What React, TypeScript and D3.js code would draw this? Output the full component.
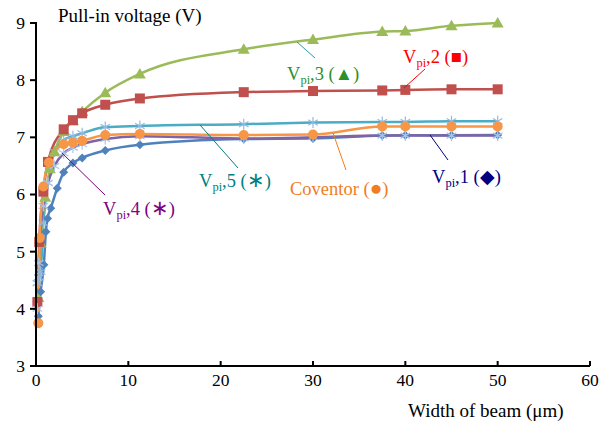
import * as d3 from 'd3';

const W = 607;
const H = 424;
const margin = { top: 23, right: 17, bottom: 58, left: 36 };

// x tick values and y tick values
const xTicks = [0, 10, 20, 30, 40, 50, 60];
const yTicks = [3, 4, 5, 6, 7, 8, 9];

// width of beam (um) and pull-in voltage (V)
const vpi1X = [0.25, 0.5, 0.85, 1.07, 1.25, 1.6, 2.3, 3, 4, 5, 7.5, 11.25, 22.5, 30, 37.5, 40, 45, 50];
const vpi1Y = [3.87, 4.3, 4.77, 5.35, 5.58, 5.76, 6.11, 6.39, 6.55, 6.64, 6.77, 6.87, 6.97, 6.98, 7.03, 7.035, 7.035, 7.04];

const vpi2X = [0.15, 0.35, 0.8, 1.3, 3, 4, 5, 7.5, 11.25, 22.5, 30, 37.5, 40, 45, 50];
const vpi2Y = [4.12, 5.17, 6.05, 6.57, 7.14, 7.3, 7.42, 7.57, 7.68, 7.79, 7.81, 7.82, 7.83, 7.84, 7.84];

const vpi3X = [0.25, 0.5, 1, 1.5, 2, 3, 4, 5, 7.5, 11.25, 22.5, 30, 37.5, 40, 45, 50];
const vpi3Y = [4.2, 5.15, 5.95, 6.45, 6.75, 7.1, 7.29, 7.45, 7.78, 8.11, 8.54, 8.71, 8.85, 8.86, 8.95, 9.0];

const vpi4X = [0.15, 0.3, 0.8, 1.3, 2, 3, 4, 5, 7.5, 11.25, 22.5, 30, 37.5, 40, 45, 50];
const vpi4Y = [4.0, 4.8, 5.8, 6.2, 6.5, 6.72, 6.82, 6.88, 6.97, 7.02, 6.98, 7.0, 7.03, 7.03, 7.03, 7.03];

const vpi5X = [0.15, 0.3, 0.5, 0.8, 1.3, 2, 3, 4, 5, 7.5, 11.25, 22.5, 30, 37.5, 40, 45, 50];
const vpi5Y = [4.45, 4.55, 4.65, 5.5, 6.2, 6.75, 6.95, 7.02, 7.07, 7.18, 7.2, 7.23, 7.26, 7.27, 7.27, 7.28, 7.28];

const coventorX = [0.25, 0.4, 0.8, 1.4, 3, 4, 5, 7.5, 11.25, 22.5, 30, 37.5, 40, 45, 50];
const coventorY = [3.75, 5.24, 6.14, 6.56, 6.88, 6.91, 6.94, 7.04, 7.06, 7.04, 7.05, 7.19, 7.19, 7.19, 7.19];

const x = d3.scaleLinear().domain([0, 60]).range([margin.left, W - margin.right]);
const y = d3.scaleLinear().domain([3, 9]).range([H - margin.bottom, margin.top]);

const zip = (xs: number[], ys: number[]) => xs.map((v, i) => [v, ys[i]] as [number, number]);

const line = d3.line<[number, number]>()
  .x(d => x(d[0]))
  .y(d => y(d[1]))
  .curve(d3.curveMonotoneX);

const serif = "'Liberation Serif', 'Times New Roman', Times, serif";

const Star = ({ cx, cy, color }: { cx: number; cy: number; color: string }) => {
  const r = 5.5;
  const a = r * Math.cos(Math.PI / 6);
  const b = r * Math.sin(Math.PI / 6);
  return (
    <g stroke={color} strokeWidth={1.2}>
      <line x1={cx} y1={cy - r} x2={cx} y2={cy + r} />
      <line x1={cx - a} y1={cy - b} x2={cx + a} y2={cy + b} />
      <line x1={cx - a} y1={cy + b} x2={cx + a} y2={cy - b} />
    </g>
  );
};

const Label = ({ tx, ty, color, name, rest, sym, symSize }: { tx: number; ty: number; color: string; name: string; rest: string; sym: string; symSize: number }) => (
  <text x={tx} y={ty} fill={color} fontSize={18.5}>
    {name}
    <tspan fontSize={12.5} dy={4}>pi</tspan>
    <tspan dy={-4}>{rest}</tspan>
    <tspan fontSize={symSize}>{sym}</tspan>
    <tspan>)</tspan>
  </text>
);

export default function App() {
  const d1 = zip(vpi1X, vpi1Y);
  const d2 = zip(vpi2X, vpi2Y);
  const d3s = zip(vpi3X, vpi3Y);
  const d4 = zip(vpi4X, vpi4Y);
  const d5 = zip(vpi5X, vpi5Y);
  const dc = zip(coventorX, coventorY);
  const x0 = x(0);
  const y0 = y(3);

  return (
    <svg width={W} height={H} style={{ position: 'absolute', left: 0, top: 0, background: '#fff', fontFamily: serif }}>
      {/* series lines */}
      <path d={line(d5) || ''} fill="none" stroke="#4BACC6" strokeWidth={2.5} />
      <path d={line(d3s) || ''} fill="none" stroke="#9BBB59" strokeWidth={2.5} />
      <path d={line(d2) || ''} fill="none" stroke="#C0504D" strokeWidth={2.5} />
      <path d={line(d1) || ''} fill="none" stroke="#4F81BD" strokeWidth={2.5} />
      <path d={line(d4) || ''} fill="none" stroke="#8064A2" strokeWidth={2.5} />
      <path d={line(dc) || ''} fill="none" stroke="#F79646" strokeWidth={2.5} />

      {/* markers */}
      {d5.map((d, i) => <Star key={'s5' + i} cx={x(d[0])} cy={y(d[1])} color="#93B9E0" />)}
      {d3s.map((d, i) => {
        const cx = x(d[0]), cy = y(d[1]);
        return <path key={'t' + i} d={`M${cx},${cy - 6}L${cx + 6},${cy + 4.5}L${cx - 6},${cy + 4.5}Z`} fill="#9BBB59" />;
      })}
      {d2.map((d, i) => <rect key={'q' + i} x={x(d[0]) - 5} y={y(d[1]) - 5} width={10} height={10} fill="#C0504D" />)}
      {d1.map((d, i) => {
        const cx = x(d[0]), cy = y(d[1]);
        return <path key={'dm' + i} d={`M${cx},${cy - 4.5}L${cx + 4.5},${cy}L${cx},${cy + 4.5}L${cx - 4.5},${cy}Z`} fill="#4F81BD" />;
      })}
      {d4.map((d, i) => <Star key={'s4' + i} cx={x(d[0])} cy={y(d[1])} color="#A9C4EA" />)}
      {dc.map((d, i) => <circle key={'c' + i} cx={x(d[0])} cy={y(d[1])} r={5} fill="#F79646" />)}

      {/* axes */}
      <line x1={x0} y1={y(9) - 1} x2={x0} y2={y0 + 1} stroke="#000" strokeWidth={2} />
      <line x1={x0 - 1} y1={y0} x2={x(60)} y2={y0} stroke="#000" strokeWidth={2} />
      {yTicks.map(t => (
        <g key={'yt' + t}>
          <line x1={x0 - 6} x2={x0} y1={y(t)} y2={y(t)} stroke="#000" strokeWidth={2} />
          <text x={x0 - 11} y={y(t)} dy="0.34em" textAnchor="end" fontSize={17.5}>{t}</text>
        </g>
      ))}
      {xTicks.map(t => (
        <g key={'xt' + t}>
          <line x1={x(t)} x2={x(t)} y1={y0 - 5} y2={y0} stroke="#000" strokeWidth={2} />
          <text x={x(t)} y={y0 + 20} textAnchor="middle" fontSize={17.5}>{t}</text>
        </g>
      ))}

      {/* axis titles */}
      <text x={58} y={22} fontSize={19}>Pull-in voltage (V)</text>
      <text x={408} y={417} fontSize={19}>Width of beam (μm)</text>

      {/* annotations */}
      <line x1={297} y1={42} x2={315} y2={58} stroke="#2E9AA0" strokeWidth={1} />
      <Label tx={287} ty={80} color="#2A902A" name="V" rest=",3 (" sym="▲" symSize={18.5} />
      <line x1={425} y1={69} x2={404} y2={88} stroke="#FF0000" strokeWidth={1} />
      <Label tx={403} ty={63} color="#FF0000" name="V" rest=",2 (" sym="■" symSize={18.5} />
      <line x1={430} y1={135} x2={448} y2={160} stroke="#000080" strokeWidth={1} />
      <Label tx={432} ty={183} color="#000080" name="V" rest=",1 (" sym="◆" symSize={18.5} />
      <line x1={333} y1={133} x2={346} y2={170} stroke="#F07D1E" strokeWidth={1} />
      <text x={290} y={195} fill="#F07D1E" fontSize={18.5}>Coventor (<tspan fontSize={21}>●</tspan>)</text>
      <line x1={200} y1={125} x2={238} y2={168} stroke="#008080" strokeWidth={1} />
      <Label tx={199} ty={187} color="#008080" name="V" rest=",5 (" sym="∗" symSize={21} />
      <line x1={62} y1={153} x2={105} y2={195} stroke="#800080" strokeWidth={1} />
      <Label tx={103} ty={215} color="#800080" name="V" rest=",4 (" sym="∗" symSize={21} />
    </svg>
  );
}
